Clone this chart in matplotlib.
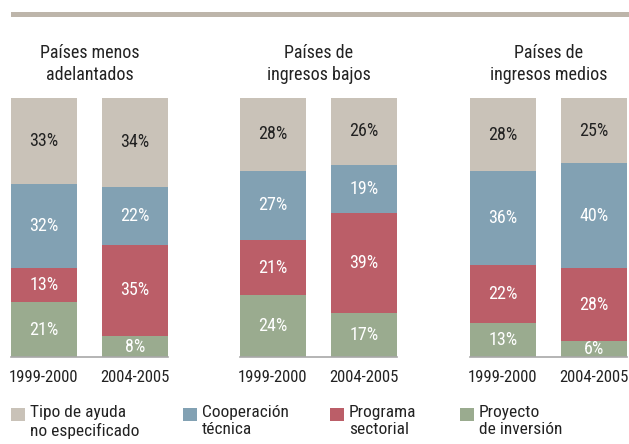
import matplotlib
matplotlib.use("Agg")
import matplotlib.pyplot as plt
from matplotlib.patches import Rectangle
from matplotlib import font_manager

# --- data -----------------------------------------------------------------
groups = ["Países menos\nadelantados", "Países de\ningresos bajos", "Países de\ningresos medios"]
periods = ["1999-2000", "2004-2005"]
series = ["Proyecto\nde inversión", "Programa\nsectorial", "Cooperación\ntécnica",
          "Tipo de ayuda\nno especificado"]

# shares per group: [1999-2000, 2004-2005]
proyecto = [[21, 8], [24, 17], [13, 6]]
programa = [[13, 35], [21, 39], [22, 28]]
cooperacion = [[32, 22], [27, 19], [36, 40]]
no_especificado = [[33, 34], [28, 26], [28, 25]]

colors = ["#9aab8f", "#bb5e68", "#82a1b3", "#c9c2b8"]
label_colors = ["white", "white", "white", "#222222"]

# --- font: narrow sans if available --------------------------------------
names = {f.name for f in font_manager.fontManager.ttflist}
fam = ["DejaVu Sans"]
for cand in ["Liberation Sans Narrow", "Roboto Condensed", "Open Sans Condensed"]:
    if cand in names:
        fam = [cand, "DejaVu Sans"]
        break
plt.rcParams["font.family"] = fam
plt.rcParams["font.stretch"] = "condensed"

W, H = 629, 444
fig = plt.figure(figsize=(W / 100, H / 100), dpi=100)

# header rule
fig.add_artist(Rectangle((11 / W, 1 - 17 / H), (629 - 11) / W, 5 / H,
                         transform=fig.transFigure, color="#bdb5aa", lw=0))

group_left = [11, 240, 470]
group_width = 157
top_px, bottom_px = 98, 357
half = 0.3626
bar_w = 0.725

stacks = [proyecto, programa, cooperacion, no_especificado]

for g in range(3):
    ax = fig.add_axes([group_left[g] / W, 1 - bottom_px / H,
                       group_width / W, (bottom_px - top_px) / H])
    ax.set_xlim(-half, 1 + half)
    ax.set_ylim(0, 100)
    totals = [sum(st[g][i] for st in stacks) for i in range(2)]
    bottoms = [0.0, 0.0]
    for s, vals in enumerate(stacks):
        v = vals[g]
        h = [v[i] * 100.0 / totals[i] for i in range(2)]
        ax.bar([0, 1], h, bottom=bottoms, width=bar_w, color=colors[s], lw=0)
        for i in range(2):
            ax.text(i, bottoms[i] + h[i] / 2, f"{v[i]}%", ha="center", va="center",
                    fontsize=13, color=label_colors[s])
        bottoms = [bottoms[i] + h[i] for i in range(2)]
    for sp in ["top", "left", "right"]:
        ax.spines[sp].set_visible(False)
    ax.spines["bottom"].set_color("#a8a8a8")
    ax.spines["bottom"].set_linewidth(1.2)
    ax.set_yticks([])
    ax.set_xticks([0, 1])
    ax.set_xticklabels(periods, fontsize=12, color="#222222")
    ax.tick_params(axis="x", length=0, pad=9)
    ax.set_title(groups[g], fontsize=13, color="#222222", pad=13, linespacing=1.25)

# legend
legend_x = [11, 183, 330, 460]
legend_order = [3, 2, 1, 0]
for k, s in enumerate(legend_order):
    x = legend_x[k]
    fig.add_artist(Rectangle((x / W, 1 - 421 / H), 14 / W, 13 / H,
                             transform=fig.transFigure, color=colors[s], lw=0))
    fig.text((x + 19) / W, 1 - 405 / H, series[s], ha="left", va="top",
             fontsize=12.5, color="#222222", linespacing=1.2)

fig.savefig("out.png", dpi=100)
